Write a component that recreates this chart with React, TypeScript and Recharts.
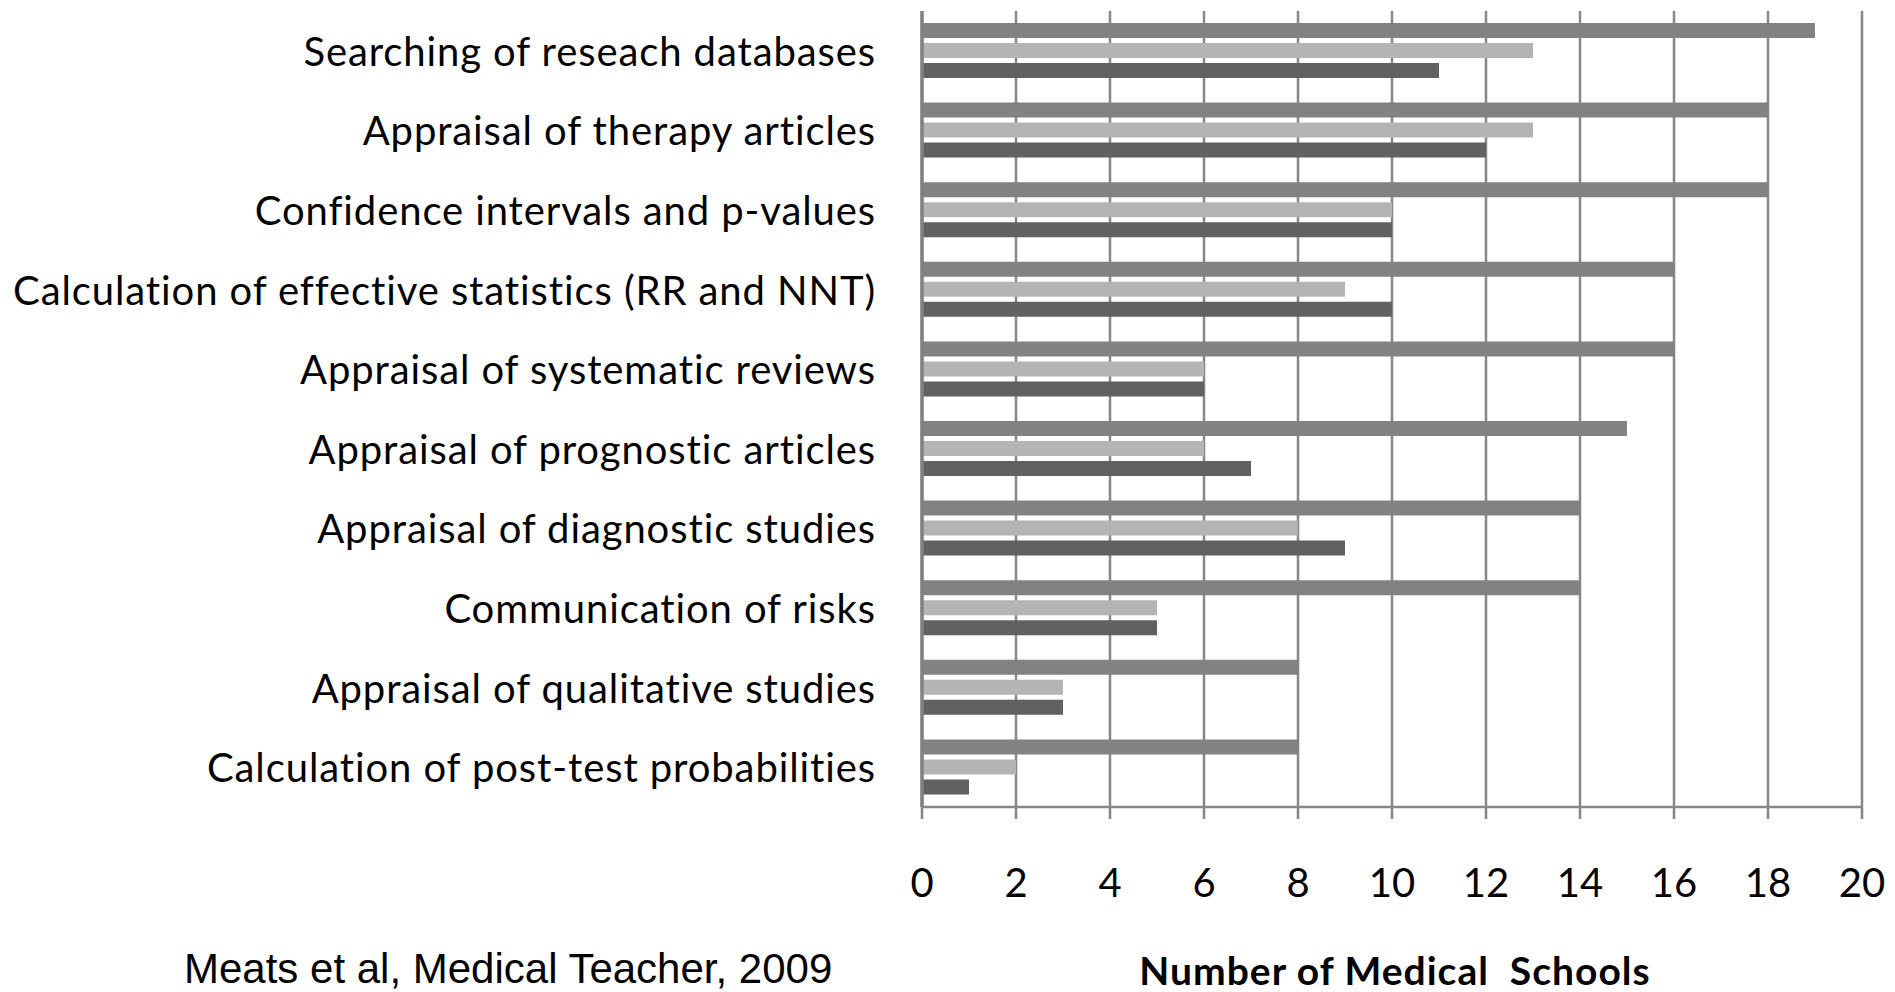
import React from "react";
import { BarChart, Bar, XAxis, YAxis, CartesianGrid } from "recharts";

const skills = [
  "Searching of reseach databases",
  "Appraisal of therapy articles",
  "Confidence intervals and p-values",
  "Calculation of effective statistics (RR and NNT)",
  "Appraisal of systematic reviews",
  "Appraisal of prognostic articles",
  "Appraisal of diagnostic studies",
  "Communication of risks",
  "Appraisal of qualitative studies",
  "Calculation of post-test probabilities",
];

const seriesA = [19, 18, 18, 16, 16, 15, 14, 14, 8, 8];
const seriesB = [13, 13, 10, 9, 6, 6, 8, 5, 3, 2];
const seriesC = [11, 12, 10, 10, 6, 7, 9, 5, 3, 1];

const xTicks = [0, 2, 4, 6, 8, 10, 12, 14, 16, 18, 20];

const data = skills.map((s, i) => ({
  skill: s,
  a: seriesA[i],
  b: seriesB[i],
  c: seriesC[i],
}));

const LABEL_FONT = "Lato, 'Open Sans', sans-serif";

const YTick = (props: any) => {
  const { x, y, payload } = props;
  return (
    <text
      x={x}
      y={y}
      textAnchor="end"
      dominantBaseline="central"
      fontFamily={LABEL_FONT}
      fontSize={40}
      letterSpacing={0.9}
      fill="#000"
      style={{ whiteSpace: "pre" }}
    >
      {payload.value}
    </text>
  );
};

const XTick = (props: any) => {
  const { x, y, payload } = props;
  return (
    <text
      x={x}
      y={y}
      textAnchor="middle"
      dominantBaseline="central"
      fontFamily={LABEL_FONT}
      fontSize={40}
      fill="#000"
    >
      {payload.value}
    </text>
  );
};

export default function App() {
  return (
    <div style={{ position: "relative", width: 1895, height: 992, background: "#fff", overflow: "hidden" }}>
      <style>{"body{margin:0;background:#fff;}"}</style>
      <BarChart
        width={1895}
        height={992}
        data={data}
        layout="vertical"
        margin={{ top: 11, right: 33, bottom: 0, left: 0 }}
        barSize={15}
        barGap={5}
      >
        <CartesianGrid
          vertical={true}
          horizontal={false}
          stroke="#878787"
          strokeWidth={2.5}
        />
        <XAxis
          type="number"
          domain={[0, 20]}
          ticks={xTicks}
          interval={0}
          height={185}
          axisLine={{ stroke: "#878787", strokeWidth: 2.5 }}
          tickLine={{ stroke: "#878787", strokeWidth: 2.5 }}
          tickSize={12}
          tickMargin={63}
          tick={<XTick />}
        />
        <YAxis
          type="category"
          dataKey="skill"
          width={922}
          axisLine={{ stroke: "#818181", strokeWidth: 3.5 }}
          tickLine={false}
          tickSize={0}
          tickMargin={46}
          tick={<YTick />}
          interval={0}
        />
        <Bar dataKey="a" name="Series A" fill="#828282" isAnimationActive={false} />
        <Bar dataKey="b" name="Series B" fill="#b4b4b4" isAnimationActive={false} />
        <Bar dataKey="c" name="Series C" fill="#616161" isAnimationActive={false} />
      </BarChart>
      <div
        style={{
          position: "absolute",
          left: 1395,
          top: 970,
          transform: "translate(-50%, -50%)",
          fontFamily: LABEL_FONT,
          fontWeight: 700,
          fontSize: 39,
          letterSpacing: 1,
          color: "#000",
          whiteSpace: "pre",
          lineHeight: 1,
        }}
      >
        Number of Medical  Schools
      </div>
      <div
        style={{
          position: "absolute",
          left: 184,
          top: 969,
          transform: "translateY(-50%)",
          fontFamily: "'Liberation Sans Narrow', 'Arial Narrow', sans-serif",
          fontSize: 42,
          color: "#000",
          whiteSpace: "pre",
          lineHeight: 1,
        }}
      >
        Meats et al, Medical Teacher, 2009
      </div>
    </div>
  );
}
